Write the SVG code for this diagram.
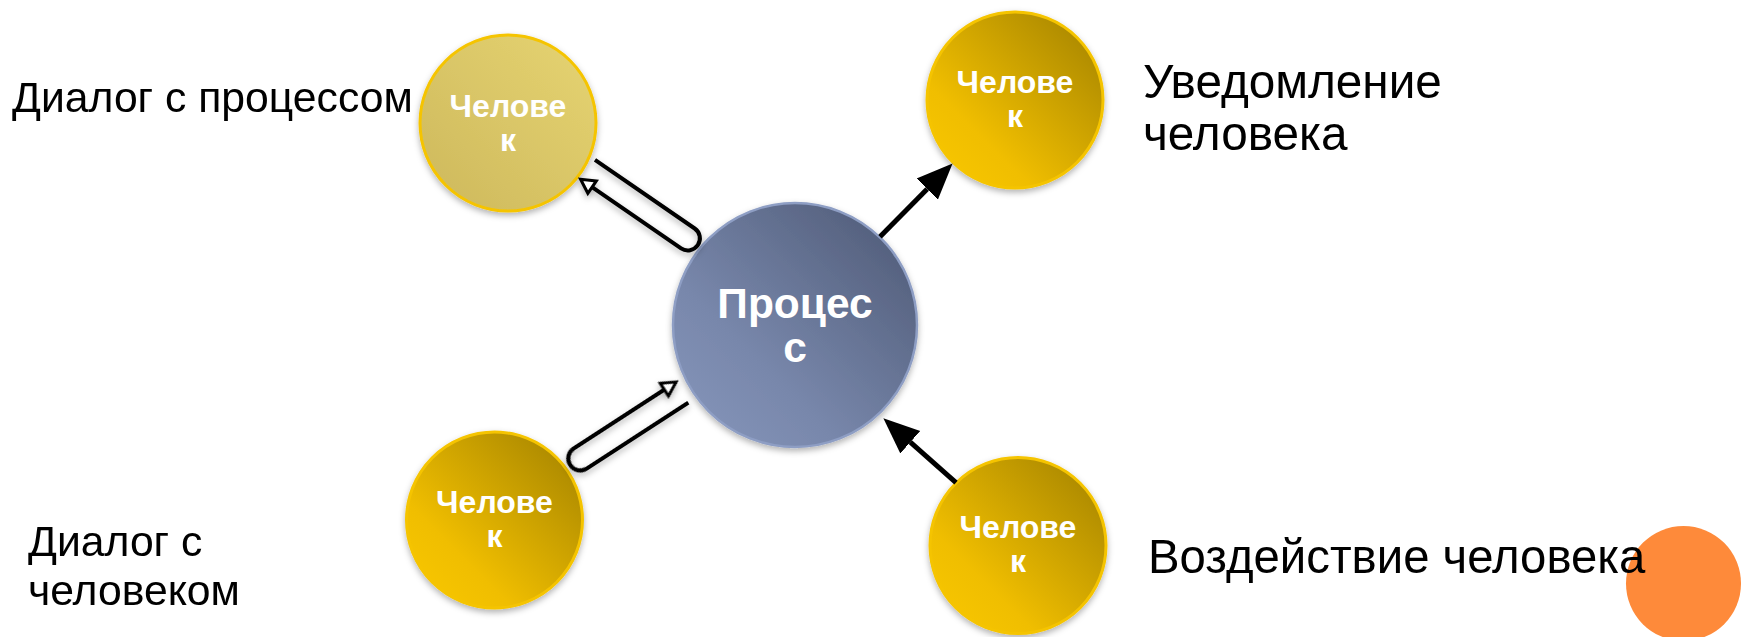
<svg xmlns="http://www.w3.org/2000/svg" width="1745" height="637" viewBox="0 0 1745 637">
<defs>
<linearGradient id="gold" x1="0" y1="1" x2="1" y2="0">
<stop offset="0" stop-color="#FAC900"/>
<stop offset="0.3" stop-color="#F0BE00"/>
<stop offset="1" stop-color="#A08000"/>
</linearGradient>
<linearGradient id="pale" x1="0" y1="1" x2="1" y2="0">
<stop offset="0" stop-color="#CDB85C"/>
<stop offset="1" stop-color="#E6D472"/>
</linearGradient>
<linearGradient id="blue" x1="0" y1="1" x2="1" y2="0">
<stop offset="0" stop-color="#8797BC"/>
<stop offset="0.35" stop-color="#7887AB"/>
<stop offset="1" stop-color="#4C5773"/>
</linearGradient>
<filter id="sh" x="-20%" y="-20%" width="140%" height="140%">
<feDropShadow dx="0" dy="3" stdDeviation="3" flood-color="#000" flood-opacity="0.3"/>
</filter>
<marker id="solid" markerUnits="userSpaceOnUse" markerWidth="40" markerHeight="34" refX="0" refY="17" orient="auto" viewBox="0 0 40 34">
<path d="M0,2 L36,17 L0,32 Z" fill="#000"/>
</marker>
<g id="uturn">
<path d="M121,12 L0,12 A12,12 0 0 1 0,-12 L108,-12" fill="none" stroke="#000" stroke-width="4" stroke-linejoin="round"/>
<polygon points="122,-12 108,-19.5 108,-4.5" fill="#fff" stroke="#000" stroke-width="3" stroke-linejoin="miter"/>
</g>
</defs>
<style>
.node{filter:url(#sh)}
.ntext{font-family:"Liberation Sans",Arial,sans-serif;font-weight:bold;fill:#fff;text-anchor:middle}
.lbl{font-family:"Liberation Sans",Arial,sans-serif;fill:#000}
.conn{stroke:#000;stroke-width:5;fill:none}
</style>
<rect width="1745" height="637" fill="#fff"/>

<g id="node-process">
<circle class="node" cx="795" cy="325" r="122" fill="url(#blue)" stroke="#8E9EC4" stroke-width="2.5"/>
<text class="ntext" font-size="42.5" x="795" y="318">Процес</text>
<text class="ntext" font-size="42.5" x="795" y="362">с</text>
</g>

<g id="node-human-topleft">
<circle class="node" cx="508" cy="123" r="88" fill="url(#pale)" stroke="#F5C400" stroke-width="3"/>
<text class="ntext" font-size="32" x="508" y="117">Челове</text>
<text class="ntext" font-size="32" x="508" y="151">к</text>
</g>

<g id="node-human-topright">
<circle class="node" cx="1015" cy="100" r="88" fill="url(#gold)" stroke="#F5C400" stroke-width="3"/>
<text class="ntext" font-size="32" x="1015" y="93">Челове</text>
<text class="ntext" font-size="32" x="1015" y="127">к</text>
</g>

<g id="node-human-bottomleft">
<circle class="node" cx="494.5" cy="520" r="88" fill="url(#gold)" stroke="#F5C400" stroke-width="3"/>
<text class="ntext" font-size="32" x="494.5" y="513">Челове</text>
<text class="ntext" font-size="32" x="494.5" y="547">к</text>
</g>

<g id="node-human-bottomright">
<circle class="node" cx="1018" cy="545.5" r="88" fill="url(#gold)" stroke="#F5C400" stroke-width="3"/>
<text class="ntext" font-size="32" x="1018" y="538">Челове</text>
<text class="ntext" font-size="32" x="1018" y="572">к</text>
</g>

<g id="connectors">
<g filter="url(#sh)">
<use href="#uturn" transform="translate(687.9,238.4) rotate(214.5)"/>
<use href="#uturn" transform="translate(580.3,458.5) rotate(-33)"/>
</g>
<line class="conn" x1="880" y1="236.7" x2="927.2" y2="189.1" marker-end="url(#solid)"/>
<line class="conn" x1="956" y1="482.7" x2="910.3" y2="442.2" marker-end="url(#solid)"/>
</g>

<circle cx="1683.5" cy="583.5" r="57.5" fill="#FE8A3A"/>

<g id="label-dialog-process">
<text class="lbl" font-size="42.7" x="12" y="112">Диалог с процессом</text>
</g>
<g id="label-notify">
<text class="lbl" font-size="47.7" x="1143" y="98">Уведомление</text>
<text class="lbl" font-size="47.7" x="1143" y="150">человека</text>
</g>
<g id="label-dialog-human">
<text class="lbl" font-size="42.7" x="28" y="556">Диалог с</text>
<text class="lbl" font-size="42.7" x="28" y="605">человеком</text>
</g>
<g id="label-impact">
<text class="lbl" font-size="47.3" x="1148" y="573">Воздействие человека</text>
</g>
</svg>
